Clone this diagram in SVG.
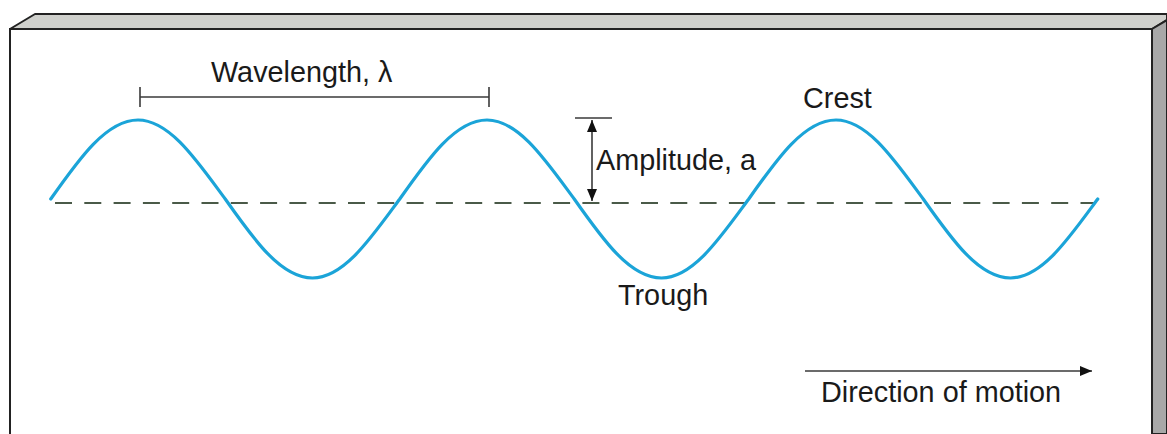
<svg xmlns="http://www.w3.org/2000/svg" width="1167" height="434" viewBox="0 0 1167 434">
<style>
.lbl{font-family:"Liberation Sans",Arial,sans-serif;font-size:28.8px;fill:#1a1a1a}
.dim{stroke:#3a3a3a;stroke-width:1.6;fill:none}
</style>
<defs>
<marker id="ah" viewBox="0 0 12 10" refX="12" refY="5" markerWidth="12" markerHeight="10" markerUnits="userSpaceOnUse" orient="auto-start-reverse">
<path d="M0,0 L12,5 L0,10 Z" fill="#111"/>
</marker>
</defs>
<g id="box">
<polygon points="10,29 35,14 1167,14 1167,20 1152,29" fill="#cfd0cc" stroke="#222" stroke-width="2" stroke-linejoin="round"/>
<polygon points="1152,29 1167,20 1167,434 1152,434" fill="#a8a8a8" stroke="#222" stroke-width="2"/>
<rect x="10" y="29" width="1142" height="410" fill="#fff" stroke="#222" stroke-width="2"/>
</g>
<g id="baseline">
<line x1="55" y1="203" x2="1096" y2="203" stroke="#4a5a48" stroke-width="2" stroke-dasharray="17,12.3"/>
</g>
<g id="wave">
<path d="M50.75,199 c28.46,-40.47 55.68,-79 87.25,-79 c31.57,0 58.79,40.47 87.25,79 c28.46,40.47 55.68,79 87.25,79 c31.570,0 58.79,-40.47 87.25,-79 c28.46,-40.47 55.68,-79 87.25,-79 c31.57,0 58.79,40.47 87.25,79 c28.46,40.47 55.68,79 87.25,79 c31.57,0 58.79,-40.47 87.25,-79 c28.46,-40.47 55.68,-79 87.25,-79 c31.57,0 58.79,40.47 87.25,79 c28.46,40.47 55.68,79 87.25,79 c31.57,0 58.79,-40.47 87.25,-79" fill="none" stroke="#1ba4d8" stroke-width="3.2" stroke-linecap="round"/>
</g>
<g id="connectors">
<g id="wavelength-bar">
<line class="dim" x1="140" y1="97" x2="489" y2="97"/>
<line class="dim" x1="140" y1="87" x2="140" y2="107"/>
<line class="dim" x1="489" y1="87" x2="489" y2="107"/>
</g>
<g id="amplitude-bar">
<line class="dim" x1="575" y1="118" x2="612" y2="118"/>
<line class="dim" x1="592" y1="120" x2="592" y2="201" marker-start="url(#ah)" marker-end="url(#ah)"/>
</g>
<g id="direction-arrow">
<line class="dim" x1="805" y1="371" x2="1092" y2="371" marker-end="url(#ah)"/>
</g>
</g>
<g id="label-wavelength"><text class="lbl" x="211" y="82">Wavelength, λ</text></g>
<g id="label-crest"><text class="lbl" x="803" y="108">Crest</text></g>
<g id="label-amplitude"><text class="lbl" x="596" y="170">Amplitude, a</text></g>
<g id="label-trough"><text class="lbl" x="618" y="305">Trough</text></g>
<g id="label-direction"><text class="lbl" x="821" y="402">Direction of motion</text></g>
</svg>
